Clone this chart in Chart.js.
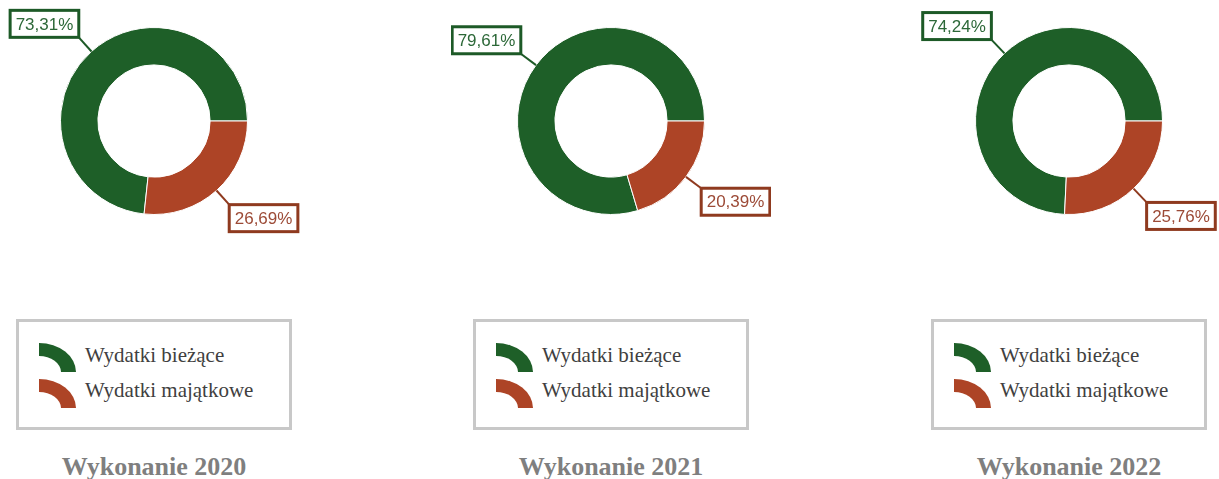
<!DOCTYPE html>
<html lang="pl">
<head>
<meta charset="utf-8">
<title>Wydatki bieżące i majątkowe</title>
<script src="https://cdn.jsdelivr.net/npm/chart.js@4/dist/chart.umd.min.js"></script>
<style>
    body { margin: 0; background: #fff; width: 1219px; height: 479px; position: relative; overflow: hidden; }
    .panel canvas { position: absolute; top: 0; }
    .legend {
        position: absolute; top: 319px; width: 276px; height: 111px;
        box-sizing: border-box; border: 3px solid #c8c8c8; background: #fff;
    }
    .legend .item { position: absolute; left: 20px; height: 30px; }
    .legend .icon {
        position: absolute; left: 0; top: 0; width: 37px; height: 29px; box-sizing: border-box;
        border-top: 13px solid; border-right: 15px solid; border-top-right-radius: 37px 29px;
    }
    .legend .text {
        position: absolute; left: 46px; top: 0; white-space: nowrap;
        font-family: "Liberation Serif", serif; font-size: 21px; line-height: 21px; color: #404040;
    }
    .title {
        position: absolute; top: 454px; width: 300px; text-align: center;
        font-family: "Liberation Serif", serif; font-weight: bold; font-size: 26px; line-height: 26px; color: #7f7f7f;
    }
</style>
</head>
<body>
<div id="charts"></div>
<script>
// Data
const categories = ['Wydatki bieżące', 'Wydatki majątkowe'];
const years = ['Wykonanie 2020', 'Wykonanie 2021', 'Wykonanie 2022'];
const biezace = [73.31, 79.61, 74.24];
const majatkowe = [26.69, 20.39, 25.76];

const colors = ['#1e5f28', '#ad4426'];
const labelBorder = ['#1d5a27', '#8f3a1f'];
const labelText = ['#2c6838', '#9c4a36'];
const centers = [154, 611, 1069];

const fmt = v => v.toFixed(2).replace('.', ',') + '%';

// Percentage boxes with leader lines
const boxLabels = {
    id: 'boxLabels',
    afterDatasetsDraw(chart) {
        const ctx = chart.ctx;
        const data = chart.data.datasets[0].data;
        chart.getDatasetMeta(0).data.forEach((arc, i) => {
            const p = arc.getProps(['x', 'y', 'startAngle', 'endAngle', 'outerRadius'], true);
            const mid = (p.startAngle + p.endAngle) / 2;
            const cos = Math.cos(mid), sin = Math.sin(mid);
            const x0 = p.x + p.outerRadius * cos, y0 = p.y + p.outerRadius * sin;
            const x1 = x0 + 19 * cos, y1 = y0 + 19 * sin;
            ctx.save();
            ctx.strokeStyle = labelBorder[i];
            ctx.lineWidth = 2;
            ctx.beginPath();
            ctx.moveTo(x0, y0);
            ctx.lineTo(x1, y1);
            ctx.stroke();
            ctx.font = '17px "Liberation Sans", sans-serif';
            const txt = fmt(data[i]);
            const w = ctx.measureText(txt).width + 11, h = 27;
            const bx = cos < 0 ? x1 - w : x1;
            const by = sin < 0 ? y1 - h : y1;
            ctx.fillStyle = '#fff';
            ctx.fillRect(bx, by, w, h);
            ctx.lineWidth = 3;
            ctx.strokeRect(bx, by, w, h);
            ctx.fillStyle = labelText[i];
            ctx.textAlign = 'center';
            ctx.textBaseline = 'middle';
            ctx.fillText(txt, bx + w / 2, by + h / 2 + 1);
            ctx.restore();
        });
    }
};

const root = document.getElementById('charts');

years.forEach((year, k) => {
    const panel = document.createElement('div');
    panel.className = 'panel';
    const canvas = document.createElement('canvas');
    canvas.width = 320;
    canvas.height = 250;
    canvas.style.left = (centers[k] - 160) + 'px';
    panel.appendChild(canvas);

    // Legend
    const legend = document.createElement('div');
    legend.className = 'legend';
    legend.style.left = (centers[k] - 138) + 'px';
    categories.forEach((cat, i) => {
        const item = document.createElement('div');
        item.className = 'item';
        item.style.top = (21 + i * 36) + 'px';
        item.innerHTML = '<div class="icon" style="border-color:' + colors[i] + '"></div>' +
            '<div class="text" style="top:' + (2 - i) + 'px">' + cat + '</div>';
        legend.appendChild(item);
    });
    panel.appendChild(legend);

    // Title
    const title = document.createElement('div');
    title.className = 'title';
    title.style.left = (centers[k] - 150) + 'px';
    title.textContent = year;
    panel.appendChild(title);

    root.appendChild(panel);

    new Chart(canvas.getContext('2d'), {
        type: 'doughnut',
        data: {
            labels: categories,
            datasets: [{
                data: [biezace[k], majatkowe[k]],
                backgroundColor: colors,
                borderColor: '#ffffff',
                borderWidth: 1
            }]
        },
        options: {
            responsive: false,
            animation: false,
            cutout: '60%',
            // green segment begins where the red one (starting at 3 o'clock) ends
            rotation: 90 + majatkowe[k] * 3.6,
            layout: { padding: { top: 27, bottom: 35, left: 66, right: 66 } },
            plugins: {
                legend: { display: false },
                tooltip: { enabled: false }
            }
        },
        plugins: [boxLabels]
    });
});
</script>
</body>
</html>
